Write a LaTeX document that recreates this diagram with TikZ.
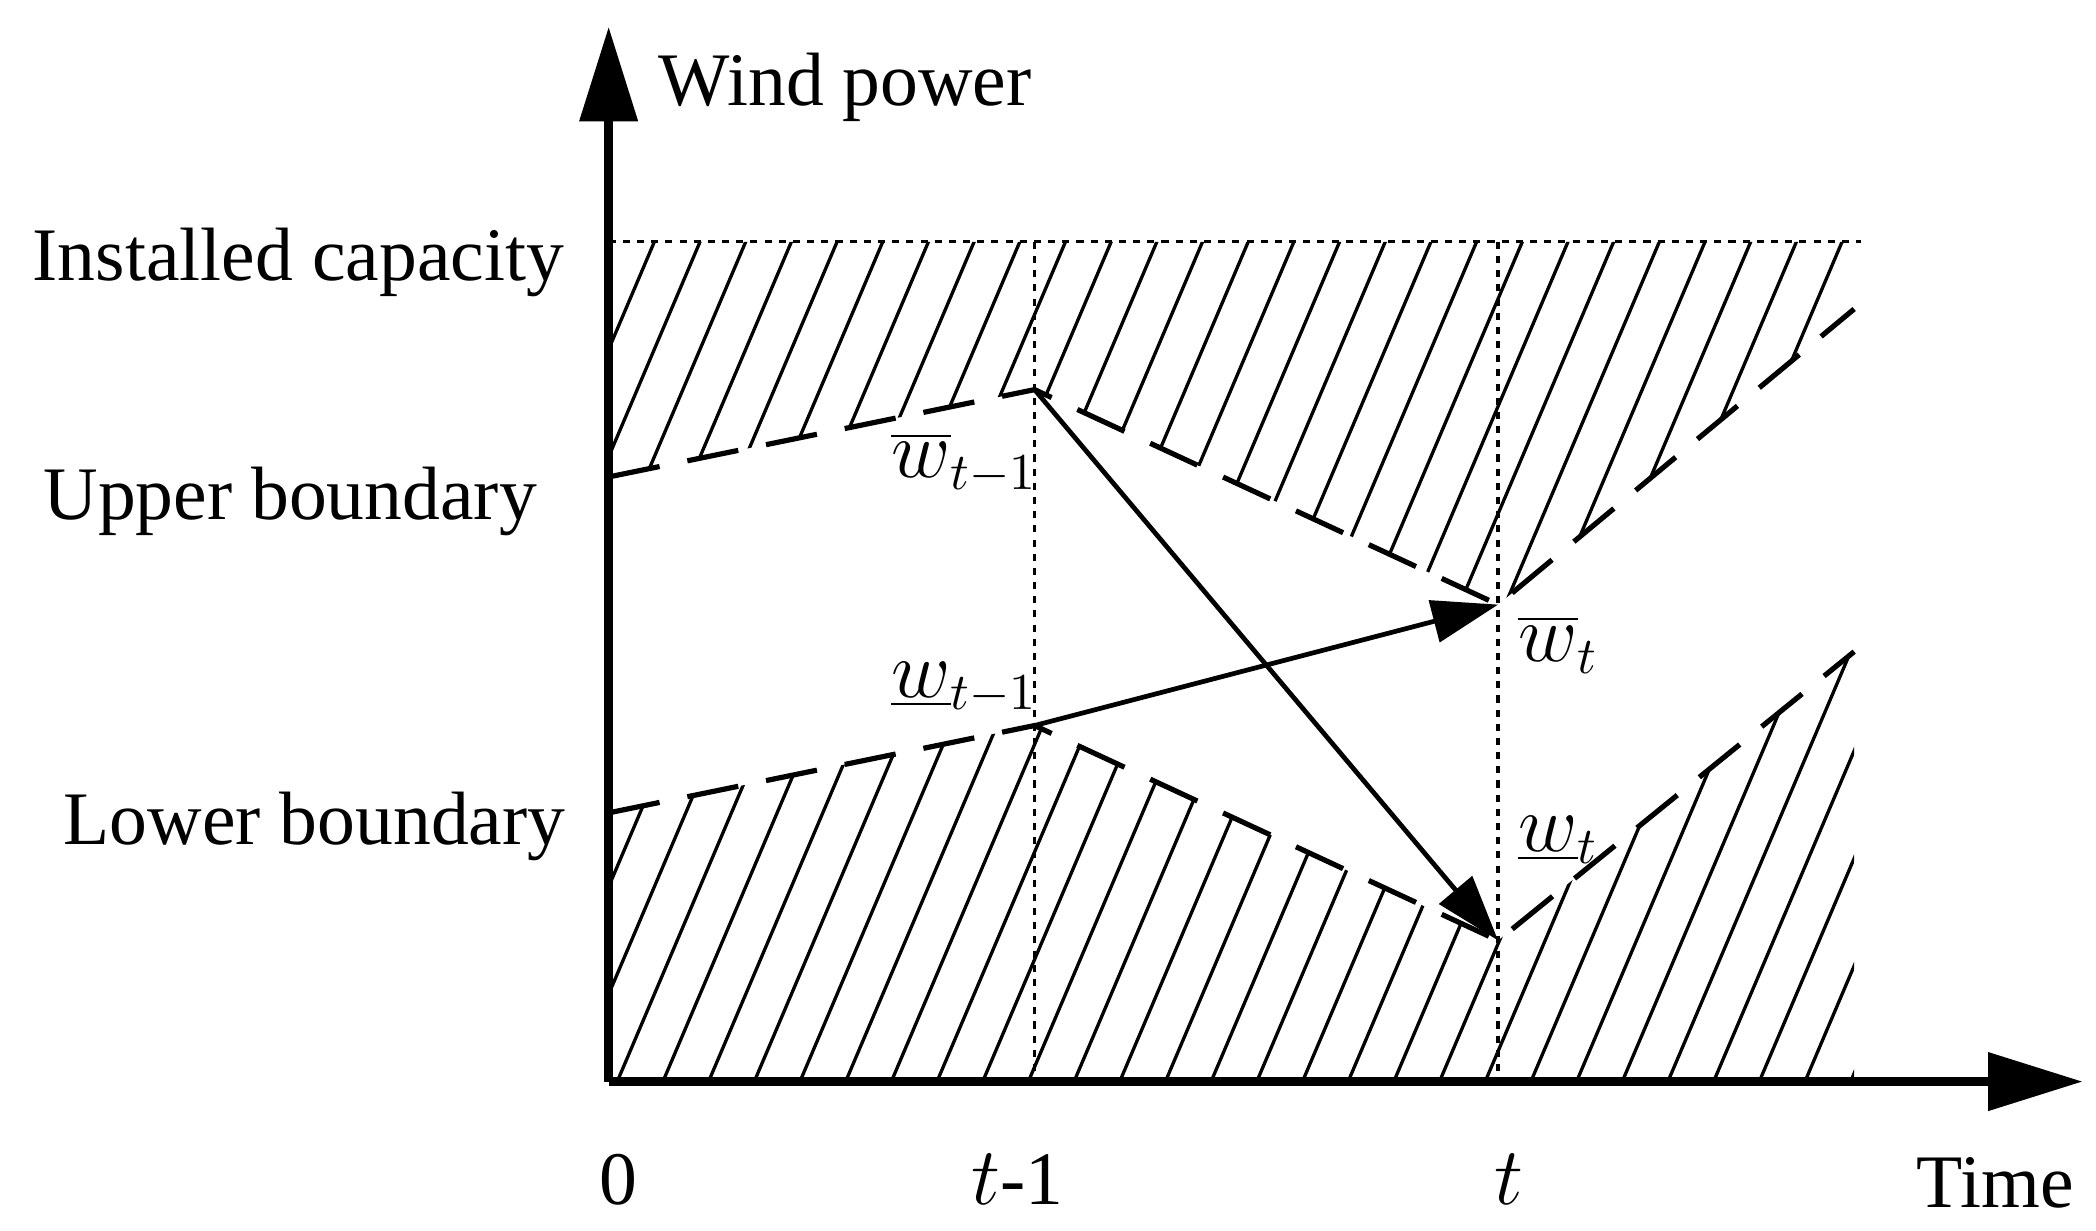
\documentclass[tikz,border=0pt]{standalone}
\usepackage{fontspec}
\setmainfont{Liberation Serif}
\usetikzlibrary{arrows.meta}
\begin{document}
\begin{tikzpicture}[x=0.01cm,y=-0.01cm,
  bnd/.style={line width=1.1pt,dash pattern=on 11pt off 6pt},
  dot/.style={line width=0.7pt,dash pattern=on 1.5pt off 1.5pt},
  hat/.style={line width=0.7pt},
  lab/.style={font=\fontsize{16}{19}\selectfont},
  arr/.style={line width=1pt,-{Triangle[length=14pt,width=9pt]}}]
\useasboundingbox (0,0) rectangle (1560,916);
% hatch regions
\begin{scope}
\clip (453,180) -- (1380,180) -- (1380,230) -- (1115,450) -- (770,290) -- (453,355) -- cycle;
\foreach \i in {-20,...,40} \draw[hat] (453+\i*34,900) -- ++(340,-800);
\end{scope}
\begin{scope}
\clip (453,805) -- (453,605) -- (770,540) -- (1115,700) -- (1380,485) -- (1380,805) -- cycle;
\foreach \i in {-20,...,40} \draw[hat] (453+\i*34,900) -- ++(340,-800);
\end{scope}
% coordinates
\coordinate (O) at (453,805);
\coordinate (u0) at (453,355); \coordinate (u1) at (770,290); \coordinate (u2) at (1115,450); \coordinate (u3) at (1380,230);
\coordinate (l0) at (453,605); \coordinate (l1) at (770,540); \coordinate (l2) at (1115,700); \coordinate (l3) at (1380,485);
\coordinate (c0) at (453,180); \coordinate (c1) at (1385,180);
\coordinate (a1) at (770,805); \coordinate (a2) at (1115,805);
\coordinate (ya) at (453,20); \coordinate (xa) at (1550,805);
% dotted lines
\draw[dot] (c0) -- (c1);
\draw[dot] (770,180) -- (a1);
\draw[dot] (1115,180) -- (a2);
% boundaries
\draw[bnd] (u0) -- (u1) -- (u2) -- (u3);
\draw[bnd] (l0) -- (l1) -- (l2) -- (l3);
% axes
\draw[line width=1.8pt,-{Triangle[length=20pt,width=12pt]}] (O) -- (ya);
\draw[line width=1.8pt,-{Triangle[length=20pt,width=12pt]}] (O) -- (xa);
% arrows
\draw[arr] (u1) -- (l2);
\draw[arr] (l1) -- (u2);
% labels
\node[lab,anchor=west] (wp) at (478,65) {Wind power};
\node[lab,anchor=west] (ic) at (12,195) {Installed capacity};
\node[lab,anchor=west] (ub) at (20,373) {Upper boundary};
\node[lab,anchor=west] (lb) at (35,615) {Lower boundary};
\node[lab] (z) at (460,878) {0};
\node[lab] (t1) at (757,878) {$t$-1};
\node[lab] (t0) at (1123,878) {$t$};
\node[lab] (tm) at (1485,880) {Time};
\node[lab] (wu1) at (718,345) {$\overline{w}_{t-1}$};
\node[lab] (wl1) at (718,512) {$\underline{w}_{t-1}$};
\node[lab] (wu) at (1160,480) {$\overline{w}_{t}$};
\node[lab] (wl) at (1160,625) {$\underline{w}_{t}$};
\end{tikzpicture}
\end{document}
